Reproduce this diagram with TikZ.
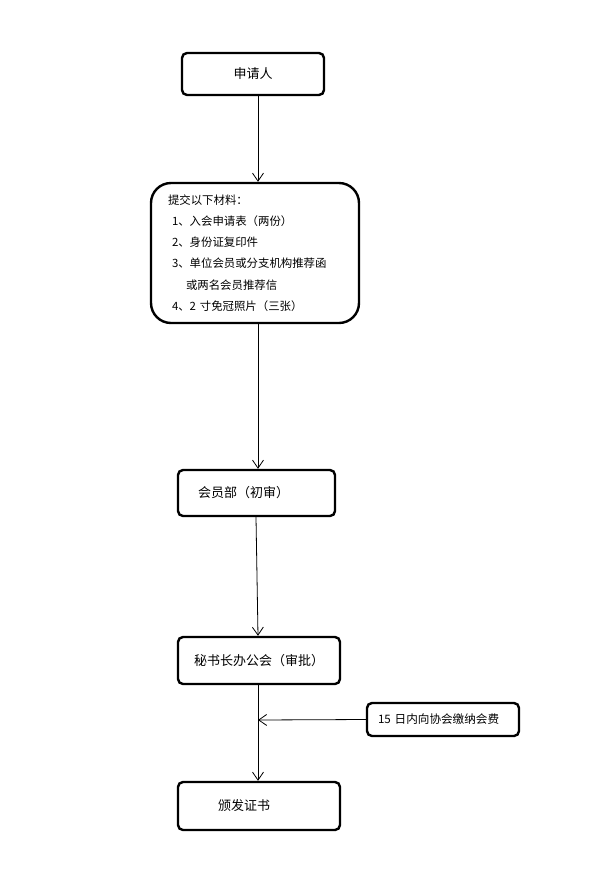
\documentclass[tikz,border=0pt]{standalone}
\usepackage{fontspec}
\setmainfont{Noto Sans CJK SC}
\usetikzlibrary{arrows.meta}
\tikzset{
  box/.style={draw, line width=2.4pt, rounded corners=5pt, inner ysep=0pt, font=\fontsize{13}{15}\selectfont, anchor=center},
  arr/.style={line width=0.8pt, -{Straight Barb[length=8pt,width=11pt,line width=0.8pt]}}
}
\begin{document}
\begin{tikzpicture}[x=1pt,y=-1pt]
\useasboundingbox (0,0) rectangle (592,871);
\node[box, minimum width=142pt, minimum height=42pt] (a) at (253,74) {申请人};
\node[box, rounded corners=20pt, minimum width=208pt, minimum height=140pt, inner xsep=17pt, text width=174pt, align=left, font=\fontsize{11.4}{21.2}\selectfont] (b) at (255,253)
  {提交以下材料：\\
   \hspace*{4pt}1、入会申请表（两份）\\
   \hspace*{4pt}2、身份证复印件\\
   \hspace*{4pt}3、单位会员或分支机构推荐函\\
   \hspace*{18pt}或两名会员推荐信\\
   \hspace*{4pt}4、2 寸免冠照片（三张）};
\node[box, minimum height=46pt, inner xsep=20pt, text width=117pt, align=left] (c) at (256.5,493) {会员部（初审）};
\node[box, minimum width=162pt, minimum height=47pt] (d) at (259,660.5) {秘书长办公会（审批）};
\node[box, minimum height=48pt, inner xsep=40pt, text width=82pt, align=left] (e) at (259,806) {颁发证书};
\node[box, minimum height=33pt, inner xsep=11pt, text width=130pt, align=left, font=\fontsize{11.6}{13}\selectfont] (f) at (443,719.5) {15 日内向协会缴纳会费};
\coordinate (m) at (258,720);
\draw[arr] (a.south -| 258,0) -- (b.north -| 258,0);
\draw[arr] (b.south -| 258,0) -- (c.north -| 258,0);
\draw[arr] (c.south -| 256,0) -- (d.north -| 258,0);
\draw[arr] (d.south -| 258,0) -- (e.north -| 258,0);
\draw[arr] (f.west) -- (m);
\end{tikzpicture}
\end{document}
